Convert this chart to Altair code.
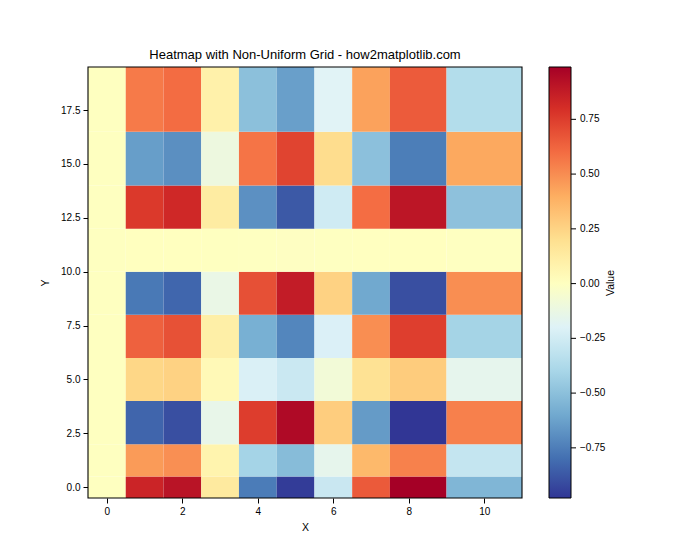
import altair as alt
import numpy as np
import pandas as pd

# grid centres (non-uniform) and cell values
x_vals = [0, 1, 2, 3, 4, 5, 6, 7, 8, 10]
y_vals = [0, 1, 3, 5, 7, 9, 11, 13, 15, 18]
row_y0 = [0.000, 0.841, 0.909, 0.141, -0.757, -0.959, -0.279, 0.657, 0.989, -0.544]
row_y1 = [0.000, 0.455, 0.491, 0.076, -0.409, -0.518, -0.151, 0.355, 0.535, -0.294]
row_y3 = [0.000, -0.833, -0.900, -0.140, 0.749, 0.949, 0.277, -0.650, -0.979, 0.539]
row_y5 = [0.000, 0.239, 0.258, 0.040, -0.215, -0.272, -0.079, 0.186, 0.281, -0.154]
row_y7 = [0.000, 0.634, 0.686, 0.106, -0.571, -0.723, -0.211, 0.495, 0.746, -0.410]
row_y9 = [0.000, -0.767, -0.828, -0.129, 0.690, 0.874, 0.255, -0.599, -0.901, 0.496]
row_y11 = [0.000, 0.004, 0.004, 0.001, -0.003, -0.004, -0.001, 0.003, 0.004, -0.002]
row_y13 = [0.000, 0.764, 0.825, 0.128, -0.687, -0.870, -0.254, 0.596, 0.898, -0.494]
row_y15 = [0.000, -0.639, -0.691, -0.107, 0.575, 0.728, 0.212, -0.499, -0.752, 0.413]
row_y18 = [0.000, 0.556, 0.600, 0.093, -0.500, -0.633, -0.184, 0.434, 0.653, -0.359]
rows = [row_y0, row_y1, row_y3, row_y5, row_y7, row_y9, row_y11, row_y13, row_y15, row_y18]

x_ticks = [0, 2, 4, 6, 8, 10]
y_ticks = [0, 2.5, 5, 7.5, 10, 12.5, 15, 17.5]
cbar_ticks = [-0.75, -0.5, -0.25, 0, 0.25, 0.5, 0.75]

TITLE = "Heatmap with Non-Uniform Grid - how2matplotlib.com"
CBAR_LABEL = "Value"


def edges(c):
    c = np.asarray(c, dtype=float)
    mid = (c[:-1] + c[1:]) / 2
    return np.concatenate([[c[0] - (c[1] - c[0]) / 2], mid, [c[-1] + (c[-1] - c[-2]) / 2]])


xe = edges(x_vals)
ye = edges(y_vals)

recs = []
for i, row in enumerate(rows):
    for j, v in enumerate(row):
        recs.append({"x0": xe[j], "x1": xe[j + 1], "y0": ye[i], "y1": ye[i + 1], "value": v})
df = pd.DataFrame(recs)

vmin = min(min(r) for r in rows)
vmax = max(max(r) for r in rows)
cmap = ["#313695", "#4575b4", "#74add1", "#abd9e9", "#e0f3f8", "#ffffbf",
        "#fee090", "#fdae61", "#f46d43", "#d73027", "#a50026"]
stops = list(np.linspace(vmin, vmax, len(cmap)))
cscale = alt.Scale(domain=stops, range=cmap, interpolate="rgb")

FONT = "Liberation Sans"
W, H = 434, 431
CB_X, CB_W = 461, 22

heat = alt.Chart(df).mark_rect(strokeWidth=0).encode(
    x=alt.X("x0:Q", title="X",
            scale=alt.Scale(domain=[float(xe[0]), float(xe[-1])], nice=False, zero=False),
            axis=alt.Axis(values=x_ticks, format="d", grid=False)),
    x2="x1:Q",
    y=alt.Y("y0:Q", title="Y",
            scale=alt.Scale(domain=[float(ye[0]), float(ye[-1])], nice=False, zero=False),
            axis=alt.Axis(values=y_ticks, format=".1f", grid=False)),
    y2="y1:Q",
    color=alt.Color("value:Q", scale=cscale,
                    legend=alt.Legend(type="gradient", title=None, orient="none",
                                      legendX=CB_X, legendY=0,
                                      direction="vertical", gradientLength=H,
                                      gradientThickness=CB_W, values=cbar_ticks, format=".2f",
                                      labelOffset=9, gradientStrokeColor="black",
                                      gradientStrokeWidth=1)),
)

frame = alt.Chart(pd.DataFrame({"t": [0]})).mark_rect(
    fill=None, stroke="black", strokeWidth=1.1
).encode(x=alt.value(0), x2=alt.value(W), y=alt.value(0), y2=alt.value(H))

cb_ticks = alt.Chart(pd.DataFrame({"v": cbar_ticks})).mark_rule(
    color="black", strokeWidth=1
).encode(
    y=alt.Y("v:Q", scale=alt.Scale(domain=[vmin, vmax], nice=False, zero=False), axis=None),
    x=alt.value(CB_X + CB_W), x2=alt.value(CB_X + CB_W + 5),
)

cbar_title = alt.Chart(pd.DataFrame({"t": [CBAR_LABEL]})).mark_text(
    angle=270, font=FONT, fontSize=10.5, color="black", baseline="middle", align="center"
).encode(x=alt.value(523), y=alt.value(216), text="t:N")

chart = alt.layer(heat, frame, cb_ticks, cbar_title).resolve_scale(
    y="independent"
).properties(
    width=W, height=H,
    title=alt.TitleParams(TITLE, fontSize=13, font=FONT, fontWeight="normal",
                          anchor="middle", offset=4, color="black"),
    autosize=alt.AutoSizeParams(type="none"),
    padding={"left": 80, "top": 59, "right": 170, "bottom": 46},
).configure_view(
    stroke=None
).configure_axis(
    domain=False, tickColor="black", tickSize=5, labelColor="black", titleColor="black",
    labelFont=FONT, titleFont=FONT, labelFontSize=10, titleFontSize=10.5,
    titleFontWeight="normal", labelPadding=3
).configure_axisX(
    titlePadding=6
).configure_axisY(
    titlePadding=10
).configure_legend(
    labelFont=FONT, titleFont=FONT, labelFontSize=10, titleFontSize=10.5,
    titleFontWeight="normal", labelColor="black", titleColor="black"
)

chart.save("out.html", embed_options={"renderer": "svg", "actions": False})
